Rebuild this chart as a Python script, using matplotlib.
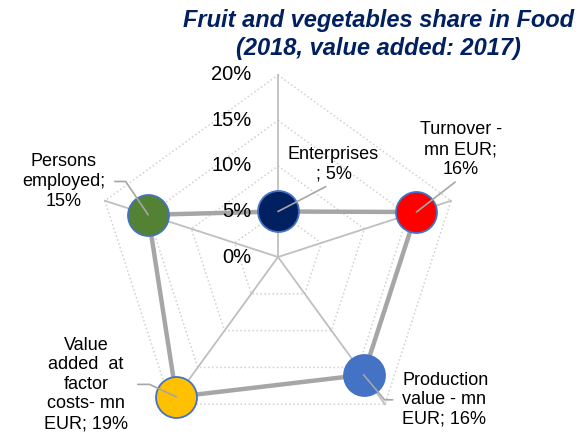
import numpy as np
import matplotlib
matplotlib.use("Agg")
from matplotlib import pyplot as plt

plt.rcParams['font.family'] = ['Liberation Sans', 'DejaVu Sans']

# data
categories = ["Enterprises\n; 5%",
              "Turnover -\nmn EUR;\n16%",
              "Production\nvalue - mn\nEUR; 16%",
              "Value\nadded  at\nfactor\ncosts- mn\nEUR; 19%",
              "Persons\nemployed;\n15%"]
values = [0.05, 0.16, 0.16, 0.19, 0.15]
colors = ['#002060', '#FF0000', '#4472C4', '#FFC000', '#548235']
rings = [0.0, 0.05, 0.10, 0.15, 0.20]
ring_labels = ['0%', '5%', '10%', '15%', '20%']
title_lines = ["Fruit and vegetables share in Food", "(2018, value added: 2017)"]

# label placement (offset in points, alignment, relpos, connection angle)
label_opts = [
    dict(off=(40, 34), ha='center', relpos=(0.5, 0), conn='arc3', shrink=2),
    dict(off=(32, 45), ha='center', relpos=(0.5, 0), conn='arc3', shrink=2),
    dict(off=(28, -18), ha='left', relpos=(0, 0.5), conn='angle,angleA=0,angleB=130,rad=0', shrink=5),
    dict(off=(-65, 9), ha='center', relpos=(1, 0.5), conn='angle,angleA=0,angleB=-25,rad=0', shrink=5),
    dict(off=(-61, 24), ha='center', relpos=(1, 0.5), conn='angle,angleA=0,angleB=-56,rad=0', shrink=5),
]

fig = plt.figure(figsize=(5.8, 4.36), dpi=100)
ax = fig.add_axes([0.1655, -0.0069, 0.6276, 0.8349], projection='polar')
ax.set_theta_offset(np.pi / 2)
ax.set_theta_direction(-1)
ax.set_ylim(0, 0.20)
ax.set_xticks([])
ax.set_yticks([])
ax.grid(False)
ax.spines['polar'].set_visible(False)
ax.patch.set_visible(False)

angles = np.arange(len(values)) * 2 * np.pi / len(values)
closed = np.append(angles, angles[0])

# dotted pentagon grid
for r in rings[1:]:
    ax.plot(closed, [r] * len(closed), ':', color='#D0D0D0', lw=1.1, clip_on=False, zorder=1)
# spokes
for a in angles:
    ax.plot([a, a], [0, rings[-1]], color='#BFBFBF', lw=1.3, clip_on=False, zorder=2)

# radial labels
for r, lab in zip(rings, ring_labels):
    ax.annotate(lab, xy=(0, r), xytext=(-19, 0), textcoords='offset points',
                ha='right', va='center', fontsize=14.5, color='#000000',
                annotation_clip=False, zorder=5)

# data line and markers
ax.plot(closed, np.append(values, values[0]), color='#A6A6A6', lw=3.2,
        clip_on=False, zorder=3)
for a, v, c in zip(angles, values, colors):
    ax.plot([a], [v], 'o', markersize=29.5, markerfacecolor=c,
            markeredgecolor='#4472C4', markeredgewidth=1.3, clip_on=False, zorder=4)

# data labels with leader lines
for a, v, lab, o in zip(angles, values, categories, label_opts):
    ax.annotate(lab, xy=(a, v), xytext=o['off'], textcoords='offset points',
                ha=o['ha'], va='center', fontsize=13, linespacing=1.2,
                annotation_clip=False, zorder=6,
                arrowprops=dict(arrowstyle='-', color='#A6A6A6', lw=1.2,
                                relpos=o['relpos'], connectionstyle=o['conn'],
                                shrinkA=o['shrink'], shrinkB=0))

# title, two lines
for i, line in enumerate(title_lines):
    fig.text(0.652, 0.938 - i * 0.064, line, ha='center', va='baseline',
             fontsize=17, fontweight='bold', fontstyle='italic', color='#002060')

fig.savefig('out.png', dpi=100)
